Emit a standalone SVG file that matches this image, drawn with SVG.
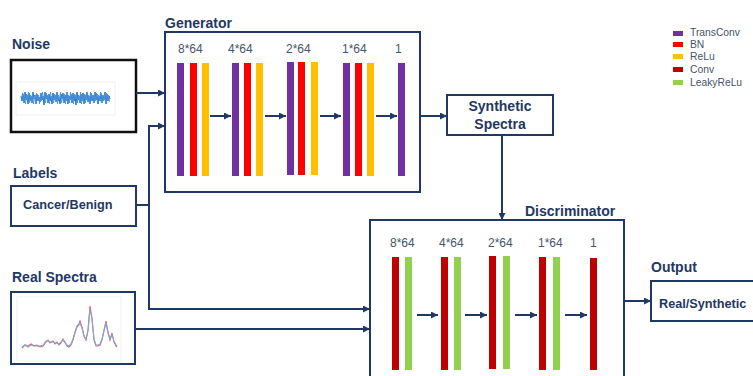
<svg xmlns="http://www.w3.org/2000/svg" width="753" height="376" viewBox="0 0 753 376">
<style>
.title{font-family:"Liberation Sans",Arial,sans-serif;font-weight:bold;font-size:14px;fill:#1f3864}
.btxt{font-family:"Liberation Sans",Arial,sans-serif;font-weight:bold;font-size:12.7px;fill:#1f3864}
.dim{font-family:"Liberation Sans",Arial,sans-serif;font-size:12px;fill:#44546a}
.leg{font-family:"Liberation Sans",Arial,sans-serif;font-size:10.3px;fill:#44546a}
.box{fill:#fff;stroke:#1f3864;stroke-width:2}
.conn{fill:none;stroke:#1f3864;stroke-width:2}
.tc{fill:#7030a0}.bn{fill:#ff0000}.re{fill:#ffc000}.cv{fill:#c00000}.lr{fill:#92d050}
</style>
<defs>
<marker id="ah" viewBox="0 0 10 10" refX="10" refY="5" markerWidth="7" markerHeight="7" markerUnits="userSpaceOnUse" orient="auto">
<path d="M0,0 L10,5 L0,10 z" fill="#1f3864"/>
</marker>
</defs>
<rect width="753" height="376" fill="#fff"/>

<g id="noise">
<text class="title" x="12" y="49">Noise</text>
<rect x="11" y="60" width="125" height="72" fill="#fff" stroke="#111" stroke-width="2.5"/>
<rect x="16" y="82" width="99" height="33" fill="#fff" stroke="#f0f0f0" stroke-width="1"/>
<polyline fill="none" stroke="#1f6fc0" stroke-width="1" points="21,96 22,101 23,94 24,103 25,92 26,100 27,95 28,104 29,93 30,101 31,96 32,103 33,92 34,99 35,95 36,104 37,94 38,101 39,97 40,102 41,93 42,100 43,96 44,105 45,92 46,99 47,95 48,103 49,94 50,101 51,96 52,104 53,93 54,100 55,95 56,102 57,92 58,101 59,97 60,104 61,94 62,99 63,93 64,103 65,95 66,101 67,92 68,104 69,96 70,100 71,94 72,103 73,93 74,101 75,95 76,105 77,92 78,100 79,96 80,103 81,94 82,101 83,93 84,104 85,95 86,100 87,92 88,102 89,96 90,104 91,93 92,101 93,95 94,103 95,92 96,100 97,94 98,104 99,96 100,101 101,93 102,103 103,95 104,100 105,92 106,104 107,94 108,101 109,96 110,99"/>
<polyline fill="none" stroke="#4a94dc" stroke-width="0.9" points="21.5,99 22.5,93 23.5,102 24.5,95 25.5,104 26.5,94 27.5,100 28.5,92 29.5,103 30.5,95 31.5,101 32.5,93 33.5,104 34.5,96 35.5,102 36.5,93 37.5,100 38.5,95 39.5,104 40.5,94 41.5,101 42.5,92 43.5,99 44.5,96 45.5,103 46.5,93 47.5,101 48.5,95 49.5,104 50.5,92 51.5,100 52.5,96 53.5,103 54.5,94 55.5,101 56.5,93 57.5,104 58.5,95 59.5,100 60.5,92 61.5,103 62.5,96 63.5,101 64.5,94 65.5,104 66.5,93 67.5,100 68.5,95 69.5,103 70.5,92 71.5,101 72.5,96 73.5,104 74.5,94 75.5,99 76.5,93 77.5,103 78.5,95 79.5,101 80.5,92 81.5,104 82.5,96 83.5,100 84.5,94 85.5,103 86.5,93 87.5,101 88.5,95 89.5,104 90.5,92 91.5,100 92.5,96 93.5,103 94.5,94 95.5,101 96.5,93 97.5,104 98.5,95 99.5,100 100.5,92 101.5,103 102.5,96 103.5,101 104.5,94 105.5,103 106.5,93 107.5,100 108.5,95 109.5,102"/>
</g>

<g id="labels">
<text class="title" x="13" y="178">Labels</text>
<rect class="box" x="11" y="186" width="125" height="40"/>
<text class="btxt" x="23" y="209">Cancer/Benign</text>
</g>

<g id="real-spectra">
<text class="title" x="12" y="282">Real Spectra</text>
<rect class="box" x="11" y="292" width="124" height="72"/>
<rect x="17" y="297" width="104" height="64" fill="#fff" stroke="#f0f0f0" stroke-width="1"/>
<polyline fill="none" stroke="#e06060" stroke-width="1.1" points="22,348 25,345 28,346 31,344 34,346 37,345 40,347 43,346 46,342 48,340 50,343 53,341 55,344 57,342 59,345 61,343 63,339 65,342 67,346 69,347 71,345 73,340 75,332 77,326 79,324 80,321 82,327 84,336 86,340 88,330 90,306 92,318 94,340 96,346 98,346 100,345 102,340 104,330 106,321 108,332 110,340 112,333 114,342 116,346 117,347"/>
<polyline fill="none" stroke="#7fa8d8" stroke-width="1.1" points="22,347 25,345 28,347 31,345 34,346 37,346 40,346 43,345 46,341 48,341 50,342 53,342 55,343 57,343 59,344 61,342 63,340 65,343 67,345 69,346 71,344 73,339 75,333 77,327 79,325 80,323 82,328 84,336 86,339 88,331 90,309 92,319 94,339 96,345 98,345 100,344 102,339 104,331 106,323 108,333 110,339 112,335 114,341 116,345 117,346"/>
</g>

<g id="generator">
<text class="title" x="165" y="28">Generator</text>
<rect class="box" x="165" y="32" width="255" height="160"/>
<text class="dim" x="178" y="53">8*64</text>
<text class="dim" x="228" y="53">4*64</text>
<text class="dim" x="286" y="53">2*64</text>
<text class="dim" x="342" y="53">1*64</text>
<text class="dim" x="395" y="53">1</text>
<rect class="tc" x="177" y="63" width="7" height="113"/>
<rect class="bn" x="190" y="63" width="7" height="113"/>
<rect class="re" x="202" y="63" width="7" height="113"/>
<rect class="tc" x="232" y="63" width="7" height="113"/>
<rect class="bn" x="244" y="63" width="7" height="113"/>
<rect class="re" x="256" y="63" width="7" height="113"/>
<rect class="tc" x="287" y="62" width="7" height="113"/>
<rect class="bn" x="298" y="62" width="7" height="113"/>
<rect class="re" x="311" y="62" width="7" height="113"/>
<rect class="tc" x="343" y="63" width="7" height="113"/>
<rect class="bn" x="355" y="63" width="7" height="113"/>
<rect class="re" x="367" y="63" width="7" height="113"/>
<rect class="tc" x="398" y="63" width="7" height="113"/>
<line class="conn" x1="210" y1="116" x2="231" y2="116" marker-end="url(#ah)"/>
<line class="conn" x1="265" y1="116" x2="286" y2="116" marker-end="url(#ah)"/>
<line class="conn" x1="320" y1="116" x2="341" y2="116" marker-end="url(#ah)"/>
<line class="conn" x1="376" y1="116" x2="397" y2="116" marker-end="url(#ah)"/>
</g>

<g id="synthetic-spectra">
<rect class="box" x="447" y="95" width="106" height="40"/>
<text class="title" x="500" y="111" text-anchor="middle">Synthetic</text>
<text class="title" x="500" y="129" text-anchor="middle">Spectra</text>
</g>

<g id="discriminator">
<text class="title" x="525" y="216">Discriminator</text>
<rect class="box" x="370" y="220" width="254" height="170"/>
<text class="dim" x="390" y="247">8*64</text>
<text class="dim" x="439" y="247">4*64</text>
<text class="dim" x="488" y="247">2*64</text>
<text class="dim" x="538" y="247">1*64</text>
<text class="dim" x="590" y="247">1</text>
<rect class="cv" x="392" y="257" width="7" height="113"/>
<rect class="lr" x="405" y="257" width="7" height="113"/>
<rect class="cv" x="441" y="257" width="7" height="113"/>
<rect class="lr" x="454" y="257" width="7" height="113"/>
<rect class="cv" x="489" y="256" width="7" height="113"/>
<rect class="lr" x="503" y="256" width="7" height="113"/>
<rect class="cv" x="539" y="257" width="7" height="113"/>
<rect class="lr" x="553" y="257" width="7" height="113"/>
<rect class="cv" x="590" y="258" width="7" height="112"/>
<line class="conn" x1="417" y1="315" x2="438" y2="315" marker-end="url(#ah)"/>
<line class="conn" x1="465" y1="315" x2="487" y2="315" marker-end="url(#ah)"/>
<line class="conn" x1="515" y1="315" x2="537" y2="315" marker-end="url(#ah)"/>
<line class="conn" x1="565" y1="315" x2="587" y2="315" marker-end="url(#ah)"/>
</g>

<g id="output">
<text class="title" x="651" y="272">Output</text>
<rect class="box" x="651" y="281" width="106" height="40"/>
<text class="btxt" x="659" y="308">Real/Synthetic</text>
</g>

<g id="legend">
<rect class="tc" x="673" y="31" width="10" height="5"/>
<text class="leg" x="690" y="36">TransConv</text>
<rect class="bn" x="673" y="42" width="10" height="5"/>
<text class="leg" x="690" y="48">BN</text>
<rect class="re" x="673" y="54" width="10" height="5"/>
<text class="leg" x="690" y="60">ReLu</text>
<rect class="cv" x="673" y="67" width="10" height="5"/>
<text class="leg" x="690" y="73">Conv</text>
<rect class="lr" x="673" y="80" width="10" height="5"/>
<text class="leg" x="690" y="86">LeakyReLu</text>
</g>

<g id="connectors">
<line class="conn" x1="136" y1="93" x2="165" y2="93" marker-end="url(#ah)"/>
<polyline class="conn" points="136,205 149,205"/>
<polyline class="conn" points="165,126 149,126 149,309 370,309" marker-end="url(#ah)"/>
<line class="conn" x1="149" y1="126" x2="165" y2="126" marker-end="url(#ah)"/>
<line class="conn" x1="135" y1="329" x2="370" y2="329" marker-end="url(#ah)"/>
<line class="conn" x1="420" y1="116" x2="447" y2="116" marker-end="url(#ah)"/>
<line class="conn" x1="502" y1="135" x2="502" y2="220" marker-end="url(#ah)"/>
<line class="conn" x1="624" y1="301" x2="651" y2="301" marker-end="url(#ah)"/>
</g>
</svg>
